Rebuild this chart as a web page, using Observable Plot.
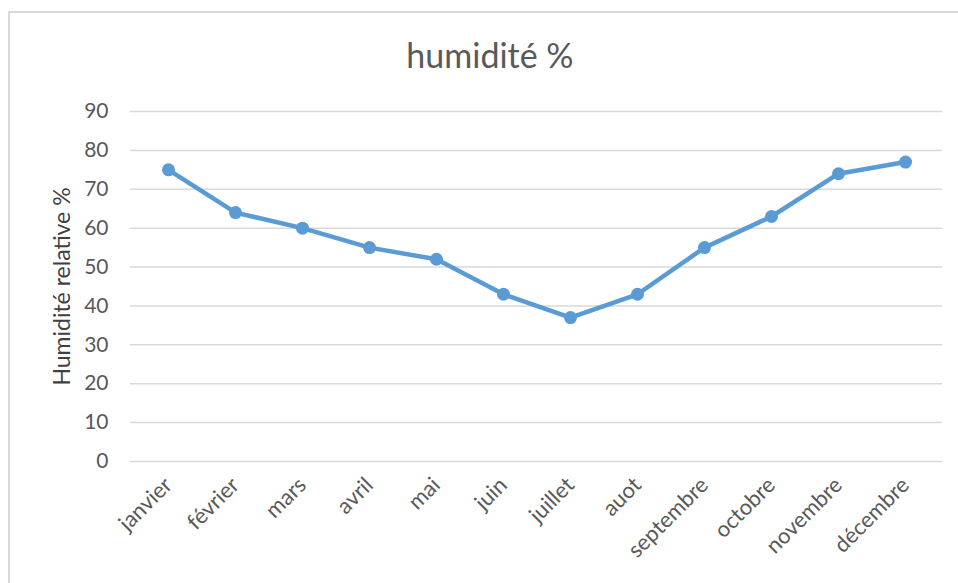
<!DOCTYPE html>
<html>
<head>
<meta charset="utf-8">
<script src="https://cdn.jsdelivr.net/npm/d3@7"></script>
<script src="https://cdn.jsdelivr.net/npm/@observablehq/plot@0.6"></script>
<style>
  html, body { margin: 0; padding: 0; background: #fff; overflow: hidden; }
  #wrap { position: relative; width: 958px; height: 583px; overflow: hidden; font-family: Lato, "Open Sans", sans-serif; }
  #frame { position: absolute; left: 8px; top: 11px; width: 1000px; height: 700px; border-left: 2.5px solid #d9d9d9; border-top: 2.5px solid #d9d9d9; box-sizing: border-box; }
  #title { position: absolute; left: 0; width: 980px; top: 38px; text-align: center; font-size: 34px; color: #595959; line-height: 1; }
  #chart { position: absolute; left: 0; top: 0; }
</style>
</head>
<body>
<div id="wrap">
  <div id="frame"></div>
  <div id="title">humidité %</div>
  <div id="chart"></div>
</div>
<script>
const months = ["janvier", "février", "mars", "avril", "mai", "juin", "juillet", "auot", "septembre", "octobre", "novembre", "décembre"];
const humidity = [75, 64, 60, 55, 52, 43, 37, 43, 55, 63, 74, 77];
const yTicks = [0, 10, 20, 30, 40, 50, 60, 70, 80, 90];
const yLabel = "Humidité relative %";

const data = months.map((m, i) => ({month: m, value: humidity[i]}));

const chart = Plot.plot({
  width: 958,
  height: 583,
  marginLeft: 130,
  marginRight: 16,
  marginTop: 111,
  marginBottom: 122,
  style: {fontFamily: "Lato, 'Open Sans', sans-serif", background: "transparent", overflow: "visible"},
  x: {type: "point", domain: months, padding: 0.5},
  y: {domain: [0, 90]},
  marks: [
    Plot.gridY(yTicks, {stroke: "#d9d9d9", strokeOpacity: 1, strokeWidth: 1.5}),
    Plot.axisY(yTicks, {tickSize: 0, tickPadding: 22, fontSize: 21, fill: "#595959", label: null, tickFormat: d => String(d)}),
    Plot.text([yLabel], {frameAnchor: "left", textAnchor: "middle", dx: -68, rotate: -90, fontSize: 23, fill: "#404040"}),
    Plot.axisX({tickSize: 0, tickPadding: 20, tickRotate: -45, fontSize: 22, fill: "#595959", label: null}),
    Plot.line(data, {x: "month", y: "value", stroke: "#5b9bd5", strokeWidth: 4.5, strokeLinejoin: "round", strokeLinecap: "round"}),
    Plot.dot(data, {x: "month", y: "value", r: 6.5, fill: "#5b9bd5", stroke: "none"})
  ]
});
document.getElementById("chart").appendChild(chart);
</script>
</body>
</html>
